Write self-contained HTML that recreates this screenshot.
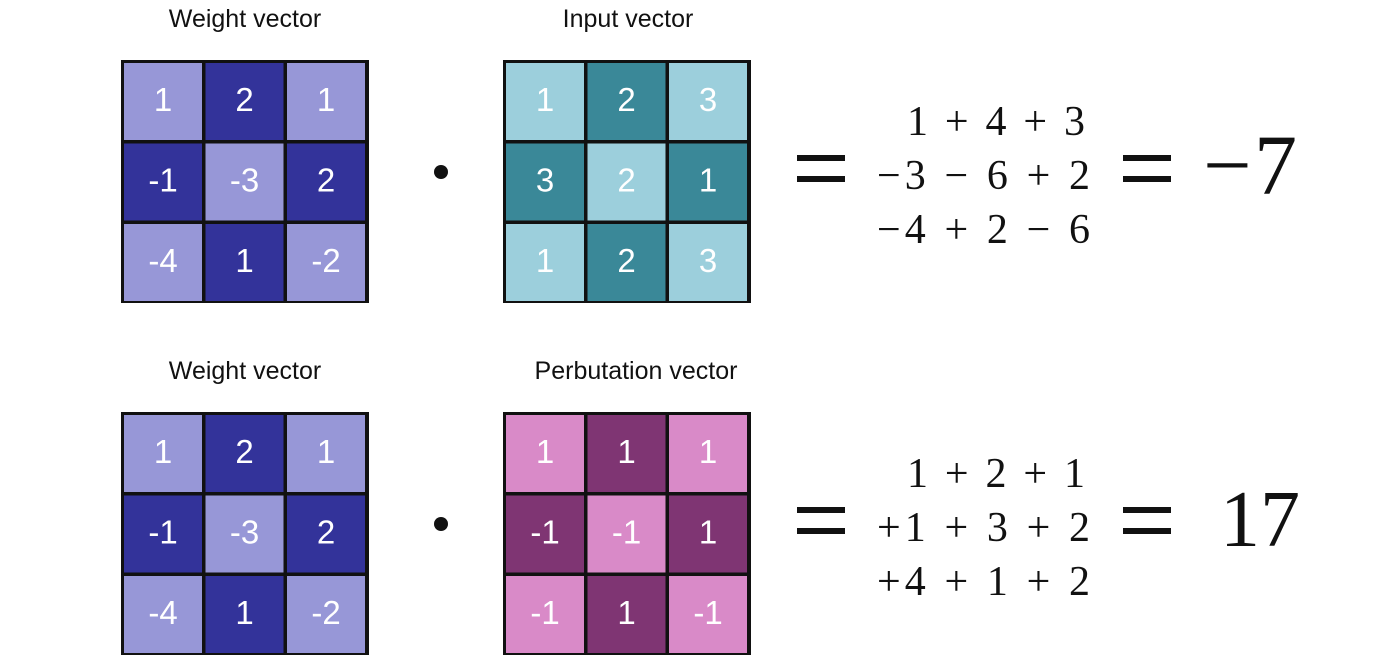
<!DOCTYPE html>
<html><head><meta charset="utf-8"><style>
body{margin:0;background:#fff;width:1400px;height:667px;overflow:hidden}
svg{display:block}
.t{font-family:"Liberation Sans",sans-serif;font-size:25px;fill:#111}
.c{font-family:"Liberation Sans",sans-serif;font-size:33px;fill:#fff;text-anchor:middle}
.m{font-family:"Liberation Serif",serif;font-size:42px;fill:#111}
.r{font-family:"Liberation Serif",serif;font-size:86px;fill:#111}
</style></head><body>
<svg width="1400" height="667">
<g id="g"></g>
<text class="t" x="245" y="27" text-anchor="middle">Weight vector</text>
<text class="t" x="628" y="27" text-anchor="middle">Input vector</text>
<text class="t" x="245" y="379" text-anchor="middle">Weight vector</text>
<text class="t" x="636" y="379" text-anchor="middle">Perbutation vector</text>
<circle cx="441" cy="172" r="7" fill="#111"/>
<circle cx="441" cy="524" r="7" fill="#111"/>
<g>
<rect x="797" y="155" width="48" height="6" fill="#111"/><rect x="797" y="176" width="48" height="6" fill="#111"/>
<text class="m" x="907" y="135" textLength="178" lengthAdjust="spacing">1 + 4 + 3</text>
<text class="m" x="877" y="189" textLength="213" lengthAdjust="spacing">−3 − 6 + 2</text>
<text class="m" x="877" y="243" textLength="213" lengthAdjust="spacing">−4 + 2 − 6</text>
<rect x="1123" y="155" width="48" height="6" fill="#111"/><rect x="1123" y="176" width="48" height="6" fill="#111"/>
<text class="r" x="1203" y="194" textLength="94" lengthAdjust="spacing">−7</text>
</g>
<g>
<rect x="797" y="507" width="48" height="6" fill="#111"/><rect x="797" y="528" width="48" height="6" fill="#111"/>
<text class="m" x="907" y="487" textLength="178" lengthAdjust="spacing">1 + 2 + 1</text>
<text class="m" x="877" y="541" textLength="213" lengthAdjust="spacing">+1 + 3 + 2</text>
<text class="m" x="877" y="595" textLength="213" lengthAdjust="spacing">+4 + 1 + 2</text>
<rect x="1123" y="507" width="48" height="6" fill="#111"/><rect x="1123" y="528" width="48" height="6" fill="#111"/>
<text class="r" x="1220" y="546" style="font-size:80px">17</text>
</g>
</svg>
<script>
const weights=[[1,2,1],[-1,-3,2],[-4,1,-2]];
const inputs=[[1,2,3],[3,2,1],[1,2,3]];
const perturb=[[1,1,1],[-1,-1,1],[-1,1,-1]];
const grids=[
 {name:'weight-grid-top',x:121,y:60,v:weights,l:'#9797d7',d:'#33339a'},
 {name:'input-grid',x:503,y:60,v:inputs,l:'#9ccfdc',d:'#3a8898'},
 {name:'weight-grid-bottom',x:121,y:412,v:weights,l:'#9797d7',d:'#33339a'},
 {name:'perbutation-grid',x:503,y:412,v:perturb,l:'#d98ac8',d:'#7f3573'}];
const NS='http://www.w3.org/2000/svg',G=document.getElementById('g');
grids.forEach(g=>{
 const grp=document.createElementNS(NS,'g');
 
 
 const bg=document.createElementNS(NS,'rect');
 bg.setAttribute('x',g.x);bg.setAttribute('y',g.y);bg.setAttribute('width',248);bg.setAttribute('height',243);bg.setAttribute('fill','#111');
 grp.appendChild(bg);
 for(let r=0;r<3;r++)for(let c=0;c<3;c++){
  const cx=g.x+3+c*81.5,cy=g.y+3+r*80.5;
  const rc=document.createElementNS(NS,'rect');
  rc.setAttribute('x',cx);rc.setAttribute('y',cy);rc.setAttribute('width',78);rc.setAttribute('height',77);
  rc.setAttribute('fill',(r+c)%2==0?g.l:g.d);
  
  
  grp.appendChild(rc);
  const t=document.createElementNS(NS,'text');
  t.setAttribute('class','c');t.setAttribute('x',cx+39);t.setAttribute('y',cy+48);
  t.textContent=g.v[r][c];
  
  
  grp.appendChild(t);
 }
 G.appendChild(grp);
});
</script>
</body></html>
